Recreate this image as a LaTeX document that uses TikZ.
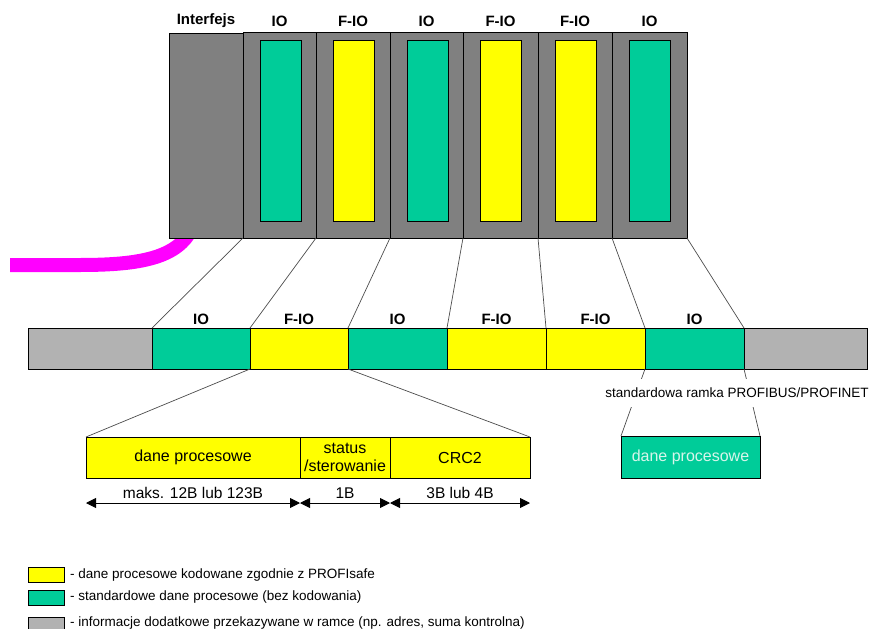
\documentclass[tikz,border=0pt]{standalone}
\usepackage{fontspec}
\setmainfont{Liberation Sans}
\usetikzlibrary{fit,arrows.meta}

\definecolor{slotgreen}{RGB}{0,204,153}
\definecolor{slotyellow}{RGB}{255,255,0}
\definecolor{rackgray}{RGB}{128,128,128}
\definecolor{framegray}{RGB}{178,178,178}
\definecolor{cablepink}{RGB}{255,0,255}
\definecolor{palegreen}{RGB}{215,245,235}

\begin{document}
\begin{tikzpicture}[x=1pt,y=-1pt,
  box/.style={draw=black, line width=0.9pt, inner sep=0pt, outer sep=0pt},
  rack/.style={box, fill=rackgray},
  slot/.style={box, line width=1pt},
  seg/.style={box},
  lbl/.style={font=\fontsize{15}{15}\selectfont\bfseries, inner sep=0pt},
  txt/.style={font=\fontsize{16}{18}\selectfont, inner sep=0pt, align=center},
  dimtxt/.style={font=\fontsize{15.5}{16}\selectfont, inner sep=0pt},
  small/.style={font=\fontsize{13.5}{14}\selectfont, inner sep=0pt},
  link/.style={draw=black!70, line width=0.7pt},
  dimline/.style={line width=0.9pt,
    {Triangle[length=10pt,width=10pt]}-{Triangle[length=10pt,width=10pt]}},
]
\useasboundingbox (0,0) rectangle (870,629);

% fieldbus cable running into the interface module
\draw[cablepink, line width=14pt] (10,265) -- (80,265)
  .. controls (140,265) and (178,258) .. (192,228);

% station: interface module and I/O modules
\node[rack, fit={(169,33) (243,238)}] (m0) {};
\node[lbl] at (206,21) {Interfejs};
\foreach \a/\b/\c/\t [count=\i] in {
  243/316/slotgreen/IO, 316/390/slotyellow/F-IO, 390/463/slotgreen/IO,
  463/538/slotyellow/F-IO, 538/612/slotyellow/F-IO, 612/687/slotgreen/IO}
{
  \node[rack, fit={(\a,32) (\b,238)}] (m\i) {};
  \node[slot, fill=\c, fit={(\a+17,40) (\a+58,221)}] (s\i) {};
  \node[lbl] at ({(\a+\b)/2},21) {\t};
}

% telegram
\node[seg, fill=framegray, fit={(28,328) (152,369)}] (f0) {};
\foreach \a/\b/\c/\t [count=\i] in {
  152/250/slotgreen/IO, 250/348/slotyellow/F-IO, 348/447/slotgreen/IO,
  447/546/slotyellow/F-IO, 546/645/slotyellow/F-IO, 645/744/slotgreen/IO}
{
  \node[seg, fill=\c, fit={(\a,328) (\b,369)}] (f\i) {};
  \node[lbl] at ({(\a+\b)/2},319) {\t};
}
\node[seg, fill=framegray, fit={(744,328) (867,369)}] (f7) {};

% module-to-telegram mapping
\draw[link] (m0.south east) -- (f1.north west);
\draw[link] (m1.south east) -- (f2.north west);
\draw[link] (m2.south east) -- (f3.north west);
\draw[link] (m3.south east) -- (f4.north west);
\draw[link] (m4.south east) -- (f5.north west);
\draw[link] (m5.south east) -- (f6.north west);
\draw[link] (m6.south east) -- (f6.north east);

% PROFIsafe frame of an F-IO
\node[seg, fill=slotyellow, fit={(86,437) (300,478)}] (d1) {};
\node[seg, fill=slotyellow, fit={(300,437) (390,478)}] (d2) {};
\node[seg, fill=slotyellow, fit={(390,437) (530,478)}] (d3) {};
\node[txt] at (d1.center) {dane procesowe};
\node[txt] at (d2.center) {status\\/sterowanie};
\node[txt] at (d3.center) {CRC2};
\draw[link] (f2.south west) -- (d1.north west);
\draw[link] (f2.south east) -- (d3.north east);

\draw[dimline] (d1.south west |- 0,503) -- (d1.south east |- 0,503);
\draw[dimline] (d2.south west |- 0,503) -- (d2.south east |- 0,503);
\draw[dimline] (d3.south west |- 0,503) -- (d3.south east |- 0,503);
\node[dimtxt] at (d1.south |- 0,493) {maks. 12B lub 123B};
\node[dimtxt] at (d2.south |- 0,493) {1B};
\node[dimtxt] at (d3.south |- 0,493) {3B lub 4B};

% standard frame of an IO
\node[seg, fill=slotgreen, fit={(621,436) (760,478)}] (g) {};
\node[txt, text=palegreen] at (g.center) {dane procesowe};
\draw[link] (f6.south west) -- (g.north west);
\draw[link] (f6.south east) -- (g.north east);
\node[small, fill=white, minimum height=28pt] (std) at (737,393)
  {standardowa ramka PROFIBUS/PROFINET};

% legend
\node[box, fill=slotyellow, fit={(28,567) (64,582)}] (k1) {};
\node[box, fill=slotgreen, fit={(28,590) (64,605)}] (k2) {};
\node[box, fill=framegray, fit={(28,617) (64,632)}] (k3) {};
\node[small, anchor=west] at (70,575) {- dane procesowe kodowane zgodnie z PROFIsafe};
\node[small, anchor=west] at (70,597) {- standardowe dane procesowe (bez kodowania)};
\node[small, anchor=west] at (70,623) {- informacje dodatkowe przekazywane w ramce (np. adres, suma kontrolna)};
\end{tikzpicture}
\end{document}
